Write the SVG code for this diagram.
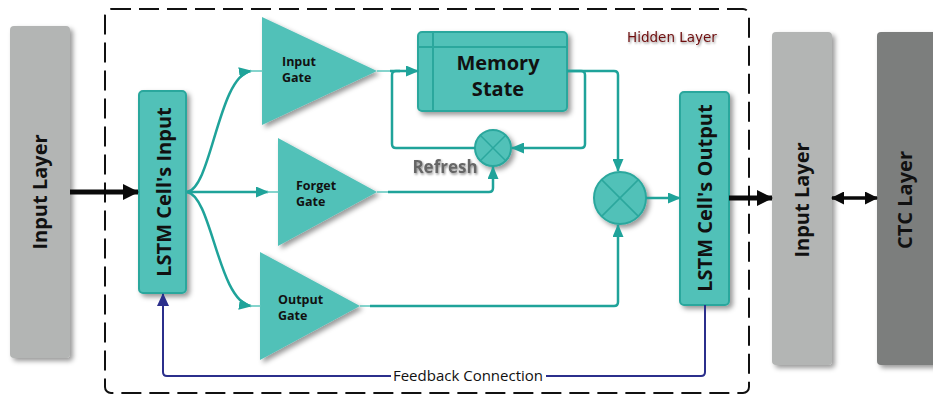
<svg xmlns="http://www.w3.org/2000/svg" width="933" height="397" viewBox="0 0 933 397">
  <defs>
    <filter id="shadow" x="-20%" y="-20%" width="150%" height="150%">
      <feDropShadow dx="3" dy="3" stdDeviation="2.5" flood-color="#000" flood-opacity="0.4"/>
    </filter>
    <filter id="textShadow" x="-10%" y="-30%" width="130%" height="170%">
      <feDropShadow dx="1" dy="1.5" stdDeviation="1.2" flood-color="#000" flood-opacity="0.45"/>
    </filter>
    <marker id="tealHead" markerUnits="userSpaceOnUse" markerWidth="13" markerHeight="11" refX="12" refY="5.5" orient="auto">
      <path d="M0,0 L13,5.5 L0,11 z" fill="#1fa39a"/>
    </marker>
    <marker id="blackHead" markerUnits="userSpaceOnUse" markerWidth="16" markerHeight="16" refX="15" refY="8" orient="auto">
      <path d="M0,0 L16,8 L0,16 z" fill="#0a0a0a"/>
    </marker>
    <marker id="smallBlackEnd" markerUnits="userSpaceOnUse" markerWidth="13" markerHeight="13" refX="12" refY="6.5" orient="auto">
      <path d="M0,0 L13,6.5 L0,13 z" fill="#0a0a0a"/>
    </marker>
    <marker id="smallBlackStart" markerUnits="userSpaceOnUse" markerWidth="13" markerHeight="13" refX="1" refY="6.5" orient="auto">
      <path d="M13,0 L0,6.5 L13,13 z" fill="#0a0a0a"/>
    </marker>
    <marker id="navyHead" markerUnits="userSpaceOnUse" markerWidth="13" markerHeight="12" refX="12" refY="6" orient="auto">
      <path d="M0,0 L13,6 L0,12 z" fill="#2b2f8c"/>
    </marker>
  </defs>
  <style>
    .layer { filter: url(#shadow); }
    .teal { fill: #51c1b8; stroke: #2ba79d; stroke-width: 2; }
    .gate { fill: #51c1b8; filter: url(#shadow); }
    .label { font-family: "Open Sans", "Noto Sans", sans-serif; font-weight: bold; fill: #111; }
    .conn { fill: none; stroke: #1fa39a; stroke-width: 2.5; stroke-linejoin: round; }
    .thin { fill: none; stroke: #5cc6bd; stroke-width: 1.5; }
    .xline { stroke: #2ba79d; stroke-width: 1.5; }
  </style>

  <rect width="933" height="397" fill="#ffffff"/>

  <!-- hidden layer frame -->
  <g id="hidden-layer">
    <rect x="105" y="9" width="644" height="384" rx="6" fill="none" stroke="#111" stroke-width="2" stroke-dasharray="20 8"/>
    <text x="672" y="42" text-anchor="middle" font-family="'DejaVu Sans', sans-serif" font-size="13.5" fill="#6e0f0f" filter="url(#textShadow)">Hidden Layer</text>
  </g>

  <!-- outer layers -->
  <g id="input-layer-left">
    <rect class="layer" x="10" y="26" width="60" height="332" rx="4" fill="#b3b5b4"/>
    <text class="label" x="0" y="0" font-size="20" text-anchor="middle" transform="translate(47,192) rotate(-90)">Input Layer</text>
  </g>
  <g id="input-layer-right">
    <rect class="layer" x="772" y="32" width="60" height="333" rx="4" fill="#b3b5b4"/>
    <text class="label" x="0" y="0" font-size="20" text-anchor="middle" transform="translate(809,200) rotate(-90)">Input Layer</text>
  </g>
  <g id="ctc-layer">
    <rect class="layer" x="877" y="32" width="70" height="333" rx="4" fill="#7c7e7d"/>
    <text class="label" x="0" y="0" font-size="20" text-anchor="middle" transform="translate(912,200) rotate(-90)">CTC Layer</text>
  </g>

  <!-- LSTM cell input / output -->
  <g id="cell-input">
    <rect class="teal" x="139" y="91" width="47" height="202" rx="4" filter="url(#shadow)"/>
    <text class="label" x="0" y="0" font-size="20" text-anchor="middle" transform="translate(171,192) rotate(-90)">LSTM Cell's Input</text>
  </g>
  <g id="cell-output">
    <rect class="teal" x="680" y="92" width="49" height="213" rx="4" filter="url(#shadow)"/>
    <text class="label" x="0" y="0" font-size="20" text-anchor="middle" transform="translate(712,198) rotate(-90)">LSTM Cell's Output</text>
  </g>

  <!-- gates -->
  <g id="input-gate">
    <polygon class="gate" points="262,17 377,71 262,125"/>
    <text class="label" font-size="12.5"><tspan x="282" y="66">Input</tspan><tspan x="282" y="82">Gate</tspan></text>
  </g>
  <g id="forget-gate">
    <polygon class="gate" points="278,138 377,192 278,246"/>
    <text class="label" font-size="12.5"><tspan x="296" y="190">Forget</tspan><tspan x="296" y="206">Gate</tspan></text>
  </g>
  <g id="output-gate">
    <polygon class="gate" points="260,252 360,306 260,360"/>
    <text class="label" font-size="12.5"><tspan x="278" y="304">Output</tspan><tspan x="278" y="320">Gate</tspan></text>
  </g>

  <!-- memory state -->
  <g id="memory-state">
    <rect class="teal" x="418" y="32" width="149" height="79" rx="4" filter="url(#shadow)"/>
    <line x1="433" y1="33" x2="433" y2="110" stroke="#2ba79d" stroke-width="2"/>
    <line x1="419" y1="47" x2="566" y2="47" stroke="#2ba79d" stroke-width="2"/>
    <text class="label" font-size="20" text-anchor="middle"><tspan x="498" y="70">Memory</tspan><tspan x="498" y="96">State</tspan></text>
  </g>

  <!-- multiplication nodes -->
  <g id="refresh-mult">
    <circle cx="493" cy="148" r="18" fill="#51c1b8" stroke="#2ba79d" stroke-width="2" filter="url(#shadow)"/>
    <line class="xline" x1="480.3" y1="135.3" x2="505.7" y2="160.7"/>
    <line class="xline" x1="505.7" y1="135.3" x2="480.3" y2="160.7"/>
    <text x="445" y="173" text-anchor="middle" font-family="'Open Sans', 'Noto Sans', sans-serif" font-weight="bold" font-size="17" fill="#666666" filter="url(#textShadow)">Refresh</text>
  </g>
  <g id="output-mult">
    <circle cx="620" cy="198" r="26" fill="#51c1b8" stroke="#2ba79d" stroke-width="2" filter="url(#shadow)"/>
    <line class="xline" x1="601.6" y1="179.6" x2="638.4" y2="216.4"/>
    <line class="xline" x1="638.4" y1="179.6" x2="601.6" y2="216.4"/>
  </g>

  <!-- connectors -->
  <g id="connectors">
    <!-- input layer to cell input -->
    <line x1="70" y1="192" x2="138" y2="192" stroke="#0a0a0a" stroke-width="5" marker-end="url(#blackHead)"/>
    <!-- cell input fan-out to gates -->
    <path class="conn" d="M187,192 C212,188 218,76 251,71" marker-end="url(#tealHead)"/>
    <line class="thin" x1="250" y1="71" x2="263" y2="71"/>
    <path class="conn" d="M187,192 L268,192" marker-end="url(#tealHead)"/>
    <line class="thin" x1="267" y1="192" x2="279" y2="192"/>
    <path class="conn" d="M187,192 C212,196 218,301 251,306" marker-end="url(#tealHead)"/>
    <line class="thin" x1="250" y1="306" x2="261" y2="306"/>
    <!-- input gate to memory state -->
    <line class="thin" x1="377" y1="71" x2="390" y2="71"/>
    <path class="conn" d="M390,71 L418,71" marker-end="url(#tealHead)"/>
    <!-- memory state refresh loop -->
    <path class="conn" d="M567,71 H581 Q585,71 585,75 V144 Q585,148 581,148 H512" marker-end="url(#tealHead)"/>
    <path class="conn" d="M475,148 H396 Q392,148 392,144 V75 Q392,71 396,71 H400"/>
    <!-- forget gate to refresh -->
    <line class="thin" x1="377" y1="192" x2="388" y2="192"/>
    <path class="conn" d="M388,192 H489 Q493,192 493,188 V167" marker-end="url(#tealHead)"/>
    <!-- memory state to output multiply -->
    <path class="conn" d="M567,71 H614 Q618,71 618,75 V171" marker-end="url(#tealHead)"/>
    <!-- output gate to output multiply -->
    <line class="thin" x1="360" y1="306" x2="370" y2="306"/>
    <path class="conn" d="M370,306 H614 Q618,306 618,302 V225" marker-end="url(#tealHead)"/>
    <!-- output multiply to cell output -->
    <path class="conn" d="M646,198 L680,198" marker-end="url(#tealHead)"/>
    <!-- cell output to input layer -->
    <line x1="729" y1="198" x2="772" y2="198" stroke="#0a0a0a" stroke-width="5" marker-end="url(#blackHead)"/>
    <!-- input layer to CTC layer -->
    <line x1="832" y1="198" x2="877" y2="198" stroke="#0a0a0a" stroke-width="3.5" marker-start="url(#smallBlackStart)" marker-end="url(#smallBlackEnd)"/>
    <!-- feedback connection -->
    <path d="M705,305 V372 Q705,376 701,376 H167 Q163,376 163,372 V294" fill="none" stroke="#2b2f8c" stroke-width="2" marker-end="url(#navyHead)"/>
    <rect x="391" y="368" width="155" height="16" fill="#ffffff"/>
    <text x="468" y="381" text-anchor="middle" font-family="'Open Sans', 'Noto Sans', sans-serif" font-size="15" fill="#111">Feedback Connection</text>
  </g>
</svg>
